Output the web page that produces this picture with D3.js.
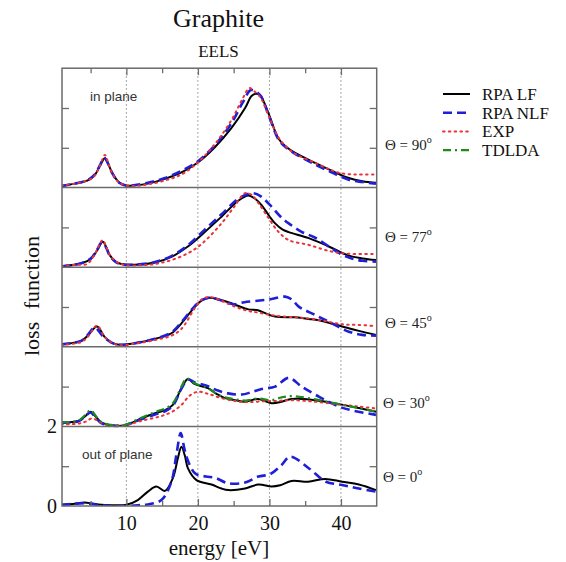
<!DOCTYPE html>
<html>
<head>
<meta charset="utf-8">
<script src="https://cdn.jsdelivr.net/npm/d3@7"></script>
<style>
  html, body { margin: 0; padding: 0; background: #fff; }
  svg { display: block; }
</style>
</head>
<body>
<svg id="chart" width="566" height="562"></svg>
<script>
// ---- axis ticks and labels ----
const energyTicks = [10, 20, 30, 40];
const energyMinorTicks = [5, 15, 25, 35];
const lossTickLabels = [0, 2];
const lossTicks = [1, 3, 5, 7, 9, 10];
const panelDividers = [2, 4, 6, 8];

// ---- panels (top to bottom) ----
const panelOffsets = [8, 6, 4, 2, 0];
const panelAngles = ["90", "77", "45", "30", "0"];

// ---- series ----
const seriesNames = ["RPA LF", "RPA NLF", "EXP", "TDLDA"];

// Θ = 90° (in plane)
const lf90 = [[0.9,0.04],[2.75,0.1],[4.6,0.18],[5.6,0.32],[6.3,0.55],[7.0,0.74],[7.5,0.58],[8.0,0.38],[9.0,0.13],[10.0,0.05],[11.0,0.05],[13.0,0.1],[15.4,0.22],[17.7,0.38],[20.0,0.63],[22.4,1.02],[24.7,1.5],[26.6,2.0],[27.5,2.3],[28.1,2.36],[28.7,2.32],[29.9,1.85],[31.3,1.22],[32.5,1.0],[33.6,0.87],[36.4,0.62],[38.75,0.42],[41.1,0.24],[43,0.16],[44.9,0.12]];
const nlf90 = [[0.9,0.04],[2.75,0.1],[4.6,0.19],[5.6,0.33],[6.3,0.56],[6.9,0.75],[7.5,0.58],[8.0,0.37],[9.0,0.12],[10,0.05],[11,0.06],[13,0.12],[15.4,0.24],[17.7,0.42],[20,0.66],[22.4,1.07],[24.7,1.62],[26.3,2.15],[27.4,2.45],[28.2,2.4],[28.8,2.3],[29.9,1.82],[31.3,1.2],[32.5,0.98],[33.6,0.85],[36.4,0.58],[38.75,0.38],[41.1,0.2],[43,0.14],[44.9,0.1]];
const exp90 = [[0.9,0.05],[2.75,0.1],[4.6,0.18],[5.6,0.3],[6.3,0.55],[7.0,0.82],[7.5,0.6],[8.0,0.37],[9.0,0.12],[10,0.06],[11,0.04],[13,0.08],[15.4,0.18],[17.7,0.33],[20,0.63],[22.4,1.1],[24.7,1.7],[26.3,2.25],[27.2,2.5],[27.9,2.42],[28.8,2.25],[29.9,1.8],[31.3,1.25],[32.5,1.0],[33.6,0.85],[36.4,0.62],[38.5,0.45],[40,0.36],[42,0.33],[44.9,0.33]];

// Θ = 77°
const lf77 = [[0.9,0.02],[3.7,0.1],[5.1,0.22],[5.9,0.42],[6.7,0.64],[7.2,0.5],[7.65,0.31],[8.5,0.14],[9.3,0.08],[11.2,0.06],[14,0.12],[16.3,0.26],[18.6,0.52],[21,0.89],[23.3,1.27],[25.65,1.67],[27.05,1.8],[28.0,1.72],[28.9,1.56],[30.0,1.28],[30.8,1.1],[31.8,0.95],[32.7,0.88],[35.5,0.73],[38.3,0.52],[41.1,0.29],[43,0.22],[44.9,0.18]];
const nlf77 = [[0.9,0.02],[3.7,0.1],[5.1,0.23],[5.9,0.44],[6.6,0.63],[7.2,0.48],[7.65,0.3],[8.5,0.13],[9.3,0.07],[11.2,0.06],[14,0.13],[16.3,0.28],[18.6,0.55],[21,0.95],[23.3,1.33],[25.65,1.72],[27.0,1.84],[27.8,1.86],[28.8,1.78],[30.3,1.52],[31.5,1.28],[32.7,1.1],[34.5,0.89],[36.4,0.74],[38.3,0.52],[40,0.33],[41.5,0.22],[43,0.16],[44.9,0.14]];
const exp77 = [[0.9,0.03],[3,0.06],[4.5,0.08],[5.5,0.3],[6.7,0.68],[7.2,0.5],[7.9,0.25],[9.0,0.1],[10,0.05],[12,0.05],[14,0.08],[16.3,0.18],[18.6,0.35],[20.5,0.58],[23.3,1.1],[25,1.5],[26.6,1.86],[27.5,1.82],[28.5,1.6],[30,1.2],[31.2,0.9],[32.7,0.68],[35.5,0.56],[38.5,0.4],[41,0.34],[44.9,0.33]];

// Θ = 45°
const lf45 = [[0.9,0.06],[3.7,0.15],[4.6,0.28],[5.9,0.51],[6.95,0.25],[8,0.1],[9.06,0.05],[11.2,0.09],[14,0.2],[16.3,0.34],[17.7,0.59],[19.6,1.01],[20.6,1.17],[21.7,1.23],[23,1.18],[24.25,1.12],[25.6,1.03],[27.05,0.94],[28.4,0.92],[29.5,0.84],[30.8,0.76],[33.6,0.74],[35.5,0.7],[37.35,0.65],[40.15,0.51],[42.5,0.4],[44.9,0.3]];
const nlf45 = [[0.9,0.06],[3.7,0.15],[4.6,0.3],[5.6,0.48],[6.7,0.27],[8,0.1],[9.06,0.05],[11.2,0.09],[14,0.2],[16.3,0.36],[17.7,0.62],[19.6,1.03],[20.6,1.18],[21.7,1.24],[23,1.18],[24.25,1.1],[25.1,1.07],[26.5,1.12],[28.0,1.15],[30.3,1.2],[32.2,1.26],[33.2,1.18],[34.1,1.01],[36.4,0.8],[38.75,0.59],[41.1,0.38],[43,0.3],[44.9,0.28]];
const exp45 = [[0.9,0.05],[3.7,0.12],[4.6,0.25],[5.9,0.53],[6.95,0.25],[8,0.1],[9.06,0.04],[11.2,0.08],[14,0.17],[16.3,0.28],[17.7,0.45],[19.6,0.98],[20.6,1.2],[21.7,1.25],[23,1.18],[24.25,1.08],[25.6,0.98],[27.05,0.9],[28.4,0.86],[30.8,0.78],[33.6,0.74],[36,0.7],[38.5,0.62],[40.5,0.56],[42.5,0.55],[44.9,0.52]];

// Θ = 30°
const lf30 = [[0.9,0.1],[3.3,0.14],[4.2,0.25],[5.0,0.37],[5.7,0.25],[6.5,0.1],[8.1,0.02],[9.8,0.03],[12.1,0.2],[14,0.33],[15.4,0.41],[16.5,0.54],[17.7,0.96],[18.6,1.19],[19.6,1.06],[21.4,0.96],[22.6,0.82],[23.8,0.71],[25.2,0.66],[26.6,0.62],[28.4,0.69],[30.3,0.58],[31.7,0.62],[33.1,0.69],[36.4,0.66],[39.7,0.56],[42.5,0.46],[44.9,0.37]];
const nlf30 = [[0.9,0.09],[3.3,0.13],[4.2,0.25],[5.0,0.35],[5.7,0.22],[6.5,0.08],[8.1,0.02],[9.8,0.03],[12.1,0.18],[14,0.3],[15.4,0.38],[16.5,0.52],[17.7,0.95],[18.6,1.18],[19.6,1.1],[21.4,1.01],[22.8,0.9],[24.25,0.83],[26.1,0.8],[27.5,0.86],[28.9,0.94],[30.8,1.0],[32.7,1.22],[34.5,1.0],[36.9,0.75],[39.7,0.5],[41.9,0.39],[44.9,0.29]];
const exp30 = [[0.9,0.05],[3.3,0.07],[4.3,0.12],[5.2,0.2],[6.2,0.12],[7.2,0.04],[8.1,0.02],[10,0.04],[12.1,0.14],[14.5,0.24],[15.4,0.29],[16.5,0.38],[17.7,0.54],[18.9,0.78],[20.0,0.87],[21.4,0.82],[23.3,0.71],[25.5,0.63],[27,0.61],[29,0.63],[31,0.64],[33.1,0.66],[36.4,0.62],[39.7,0.55],[42.5,0.5],[44.9,0.45]];
const tdlda30 = [[0.9,0.1],[3.3,0.15],[4.2,0.28],[5.0,0.41],[5.7,0.27],[6.5,0.11],[8.1,0.03],[9.8,0.04],[12.1,0.22],[14,0.36],[15.4,0.45],[16.5,0.58],[17.7,1.0],[18.4,1.2],[19.6,1.08],[21.4,0.96],[22.6,0.82],[23.8,0.73],[25.2,0.68],[26.6,0.65],[28.4,0.7],[30.3,0.66],[31.7,0.73],[33.1,0.76],[36.4,0.68],[39.7,0.56],[42.5,0.46],[44.9,0.37]];

// Θ = 0° (out of plane)
const lf0 = [[0.9,0.03],[2.5,0.05],[4.15,0.09],[5.2,0.06],[6,0.04],[8,0.02],[10,0.03],[11.6,0.15],[13,0.36],[14.2,0.49],[15.4,0.38],[16.5,0.7],[17.2,1.2],[17.7,1.49],[18.2,1.25],[18.6,0.95],[19.8,0.65],[21.9,0.54],[23.3,0.44],[24.25,0.4],[26.6,0.44],[28.45,0.54],[30.3,0.49],[31.5,0.52],[33.1,0.63],[35.4,0.61],[37.8,0.68],[40.15,0.61],[42.5,0.54],[44.9,0.4]];
const nlf0 = [[0.9,0.03],[2.5,0.05],[4.15,0.07],[6,0.03],[8,0.0],[10,0.0],[11.6,0.02],[13,0.04],[14.9,0.15],[16.3,0.61],[17.0,1.3],[17.6,1.83],[18.1,1.45],[18.4,1.24],[19.6,0.82],[21.1,0.74],[22.4,0.71],[24.25,0.57],[26.6,0.59],[28.45,0.74],[30.1,0.8],[31.7,1.03],[32.9,1.24],[35.5,0.95],[37.9,0.61],[40.15,0.53],[42.5,0.44],[44.9,0.36]];

// Per-panel series lists, indexed like seriesNames (null = not shown)
const panelSeries = [
  [lf90, nlf90, exp90, null],
  [lf77, nlf77, exp77, null],
  [lf45, nlf45, exp45, null],
  [lf30, nlf30, exp30, tdlda30],
  [lf0,  nlf0,  null,  null]
];

// ---- drawing ----
const svg = d3.select("#chart");
const plotLeft = 62, plotRight = 376.7, plotTop = 68.2, plotBottom = 506;

const x = d3.scaleLinear().domain([1, 45]).range([plotLeft, plotRight]);
const y = d3.scaleLinear().domain([0, 11]).range([plotBottom, plotTop]);

const frameColor = "#6b6b6b";
const styles = [
  { color: "#000000", width: 2.0, dash: null },
  { color: "#1f1fd6", width: 2.6, dash: "9,5" },
  { color: "#e8333a", width: 2.0, dash: "1.6,4.2" },
  { color: "#1c8c1c", width: 2.2, dash: "8,4,2,4" }
];

const serif = "'Liberation Serif', 'Times New Roman', serif";
const sans = "'Liberation Sans', Arial, sans-serif";

// Title
svg.append("text").attr("x", 218.5).attr("y", 27).attr("text-anchor", "middle")
  .attr("font-family", serif).attr("font-size", 26).attr("fill", "#111").text("Graphite");
svg.append("text").attr("x", 218.5).attr("y", 57).attr("text-anchor", "middle")
  .attr("font-family", serif).attr("font-size", 17).attr("fill", "#111").text("EELS");

// Clip for curves
svg.append("defs").append("clipPath").attr("id", "plotClip")
  .append("rect").attr("x", plotLeft).attr("y", plotTop)
  .attr("width", plotRight - plotLeft).attr("height", plotBottom - plotTop);

// Dotted verticals at major energies
svg.append("g").selectAll("line").data(energyTicks).join("line")
  .attr("x1", d => x(d)).attr("x2", d => x(d))
  .attr("y1", plotTop).attr("y2", plotBottom)
  .attr("stroke", "#8a8a8a").attr("stroke-width", 1).attr("stroke-dasharray", "1.5,2.5");

// Curves
const line = d3.line()
  .x(d => x(d[0]))
  .y(d => y(d[1]))
  .curve(d3.curveCatmullRom.alpha(0.5));

const curves = svg.append("g").attr("clip-path", "url(#plotClip)");
panelSeries.forEach((list, p) => {
  list.forEach((pts, s) => {
    if (!pts) return;
    const off = panelOffsets[p];
    const st = styles[s];
    curves.append("path")
      .datum(pts.map(d => [d[0], d[1] + off]))
      .attr("d", line)
      .attr("fill", "none")
      .attr("stroke", st.color)
      .attr("stroke-width", st.width)
      .attr("stroke-linecap", s === 2 ? "round" : "butt")
      .attr("stroke-linejoin", "round")
      .attr("stroke-dasharray", st.dash);
  });
});

// Panel dividers
svg.append("g").selectAll("line").data(panelDividers).join("line")
  .attr("x1", plotLeft).attr("x2", plotRight)
  .attr("y1", d => y(d)).attr("y2", d => y(d))
  .attr("stroke", frameColor).attr("stroke-width", 1.5);

// Frame
svg.append("rect").attr("x", plotLeft).attr("y", plotTop)
  .attr("width", plotRight - plotLeft).attr("height", plotBottom - plotTop)
  .attr("fill", "none").attr("stroke", frameColor).attr("stroke-width", 1.5);

// Inward ticks with d3 axes
function styleAxis(g) {
  g.select(".domain").remove();
  g.selectAll(".tick line").attr("stroke", frameColor).attr("stroke-width", 1.3);
}
svg.append("g").attr("transform", `translate(0,${plotBottom})`)
  .call(d3.axisBottom(x).tickValues(energyMinorTicks).tickSize(-5).tickFormat(""))
  .call(styleAxis);
svg.append("g").attr("transform", `translate(0,${plotTop})`)
  .call(d3.axisTop(x).tickValues(energyMinorTicks).tickSize(-5).tickFormat(""))
  .call(styleAxis);
svg.append("g").attr("transform", `translate(0,${plotBottom})`)
  .call(d3.axisBottom(x).tickValues(energyTicks).tickSize(-7).tickFormat(""))
  .call(styleAxis);
svg.append("g").attr("transform", `translate(0,${plotTop})`)
  .call(d3.axisTop(x).tickValues(energyTicks).tickSize(-7).tickFormat(""))
  .call(styleAxis);
svg.append("g").attr("transform", `translate(${plotLeft},0)`)
  .call(d3.axisLeft(y).tickValues(lossTicks).tickSize(-7).tickFormat(""))
  .call(styleAxis);
svg.append("g").attr("transform", `translate(${plotRight},0)`)
  .call(d3.axisRight(y).tickValues(lossTicks).tickSize(-7).tickFormat(""))
  .call(styleAxis);

// Tick labels
const xLabels = svg.append("g").attr("transform", `translate(0,${plotBottom})`)
  .call(d3.axisBottom(x).tickValues(energyTicks).tickSize(0).tickPadding(10).tickFormat(d3.format("d")));
xLabels.select(".domain").remove();
xLabels.selectAll("text").attr("font-family", serif).attr("font-size", 20).attr("fill", "#111");

const yLabels = svg.append("g").attr("transform", `translate(${plotLeft},0)`)
  .call(d3.axisLeft(y).tickValues(lossTickLabels).tickSize(0).tickPadding(5).tickFormat(d3.format("d")));
yLabels.select(".domain").remove();
yLabels.selectAll("text").attr("font-family", serif).attr("font-size", 20).attr("fill", "#111");

// Axis titles
svg.append("text").attr("x", 219).attr("y", 555).attr("text-anchor", "middle")
  .attr("font-family", serif).attr("font-size", 21).attr("fill", "#111").text("energy [eV]");
svg.append("text").attr("transform", "translate(39,296) rotate(-90)").attr("text-anchor", "middle")
  .attr("font-family", serif).attr("font-size", 22).attr("fill", "#111")
  .attr("word-spacing", 7).text("loss function");

// Panel notes
svg.append("text").attr("x", 90).attr("y", 101).attr("font-family", sans)
  .attr("font-size", 13.5).attr("fill", "#333").text("in plane");
svg.append("text").attr("x", 82).attr("y", 459).attr("font-family", sans)
  .attr("font-size", 13.5).attr("fill", "#333").text("out of plane");

// Angle labels
const angleAnchor = [1.07, 0.76, 0.6, 0.59, 0.73];
panelAngles.forEach((a, i) => {
  const t = svg.append("text")
    .attr("x", i >= 3 ? 383 : 385)
    .attr("y", y(panelOffsets[i] + angleAnchor[i]) + 5)
    .attr("font-family", serif).attr("font-size", 15).attr("fill", "#222");
  t.append("tspan").text(`\u0398 = ${a}`);
  t.append("tspan").attr("font-size", 10).attr("dy", -7).text("o");
});

// Legend
const legend = svg.append("g");
seriesNames.forEach((name, i) => {
  const ly = 94 + i * 18.7;
  const st = styles[i];
  legend.append("line").attr("x1", 443).attr("x2", 470).attr("y1", ly).attr("y2", ly)
    .attr("stroke", st.color).attr("stroke-width", st.width)
    .attr("stroke-linecap", i === 2 ? "round" : "butt")
    .attr("stroke-dasharray", st.dash);
  legend.append("text").attr("x", 482).attr("y", ly + 6)
    .attr("font-family", serif).attr("font-size", 17).attr("fill", "#111").text(name);
});
</script>
</body>
</html>
